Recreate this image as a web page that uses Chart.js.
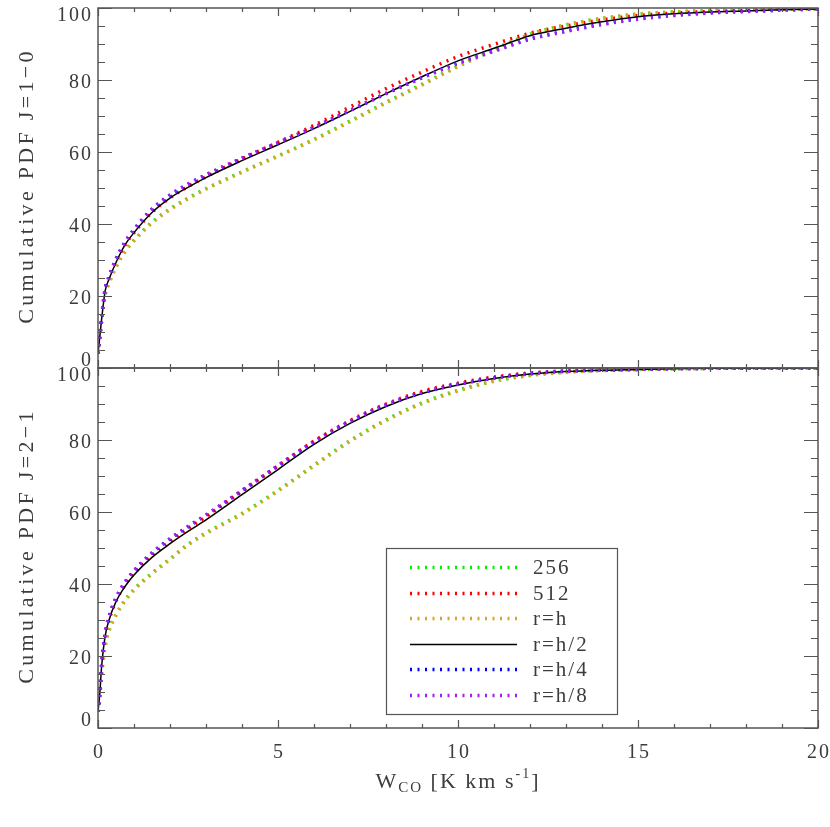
<!DOCTYPE html>
<html lang="en">
<head>
<meta charset="UTF-8">
<title>Cumulative PDF</title>
<script src="https://cdn.jsdelivr.net/npm/chart.js@4.4.0/dist/chart.umd.min.js"></script>
<style>
  body { margin: 0; background: #fff; }
  #wrap { position: relative; width: 830px; height: 827px; }
  #wrap canvas { position: absolute; left: 0; }
</style>
</head>
<body>
<div id="wrap">
  <canvas id="topChart" width="830" height="380" style="top:0"></canvas>
  <canvas id="botChart" width="830" height="467" style="top:360px"></canvas>
</div>
<script>
// W_CO sample positions (K km/s)
const xVals = [0, 0.05, 0.1, 0.2, 0.3, 0.5, 0.75, 1, 1.5, 2, 2.5, 3, 4, 5, 6, 7, 8, 9, 10, 11, 12, 13, 14, 15, 16, 17, 18, 19, 20];

const seriesLabels = ['256', '512', 'r=h', 'r=h/2', 'r=h/4', 'r=h/8'];
const seriesColors = ['#00ee00', '#ff0000', '#daa520', '#000000', '#0000ff', '#a020f0'];

const xTicks = [0, 5, 10, 15, 20];
const yTicks = [0, 20, 40, 60, 80, 100];

// J=1-0 panel
const top256 = [4, 8.5, 13, 20.5, 23.5, 28.2, 32.5, 35.5, 40.5, 44.2, 47.2, 49.8, 54.5, 58.9, 63.5, 68.6, 73.8, 78.8, 83.9, 88.5, 92.7, 95.3, 97.1, 98.3, 98.9, 99.3, 99.5, 99.7, 99.8];
const top512 = [4, 8.7, 13.5, 21.5, 24.5, 29.4, 34.2, 37.6, 43.3, 47.3, 50.4, 53.1, 58.1, 62.7, 67.4, 72.5, 77.6, 82.2, 86.5, 89.9, 93.0, 95.0, 96.7, 97.9, 98.6, 99.0, 99.3, 99.6, 99.8];
const topRh = [4, 8.4, 12.8, 20.3, 23.3, 28.0, 32.3, 35.3, 40.3, 44.0, 47.0, 49.7, 54.4, 58.8, 63.4, 68.4, 73.6, 78.6, 83.7, 88.3, 92.6, 95.3, 97.1, 98.3, 98.9, 99.3, 99.5, 99.7, 99.8];
const topRh2 = [4, 8.7, 13.5, 21.5, 24.5, 29.3, 34.2, 37.6, 43.2, 47.2, 50.2, 52.9, 57.6, 62.0, 66.5, 71.3, 76.2, 80.9, 85.3, 88.8, 92.3, 94.4, 96.2, 97.6, 98.4, 98.9, 99.2, 99.5, 99.7];
const topRh4 = [4, 9, 14, 22, 25.1, 30.2, 34.9, 38.4, 44.1, 48.0, 51.0, 53.6, 58.2, 62.5, 66.8, 71.5, 76.2, 80.6, 84.7, 88.1, 91.4, 93.6, 95.5, 97.0, 98.0, 98.7, 99.1, 99.4, 99.7];
const topRh8 = [4, 9, 14, 22, 25.2, 30.3, 35.0, 38.5, 44.2, 48.1, 51.1, 53.7, 58.3, 62.6, 66.9, 71.6, 76.3, 80.6, 84.6, 88.0, 91.3, 93.5, 95.4, 96.9, 97.9, 98.6, 99.0, 99.4, 99.7];

// J=2-1 panel
const bot256 = [4.5, 9, 15, 23, 27, 31.5, 35.5, 38.5, 43, 47, 51, 54.2, 59.6, 66.0, 73.0, 79.8, 85.6, 90.3, 93.8, 96.4, 98.0, 98.9, 99.4, 99.6, 99.8, 99.9, 99.9, 100, 100];
const bot512 = [4.5, 9.6, 17, 25.6, 29.8, 35.3, 39.7, 43.0, 48.0, 51.9, 55.4, 58.7, 65.8, 72.8, 79.7, 85.4, 90.0, 93.5, 95.8, 97.5, 98.6, 99.2, 99.5, 99.7, 99.8, 99.9, 99.9, 100, 100];
const botRh = [4.5, 8.9, 14.8, 22.8, 26.8, 31.3, 35.3, 38.3, 42.8, 46.8, 50.8, 54.0, 59.4, 65.8, 72.8, 79.6, 85.4, 90.1, 93.6, 96.3, 97.9, 98.8, 99.3, 99.6, 99.8, 99.9, 99.9, 100, 100];
const botRh2 = [4.5, 9.6, 17, 25.6, 29.8, 35.1, 39.3, 42.5, 47.4, 51.2, 54.6, 57.8, 64.8, 71.8, 78.8, 84.6, 89.3, 92.9, 95.3, 97.1, 98.3, 99.0, 99.4, 99.6, 99.8, 99.9, 99.9, 100, 100];
const botRh4 = [4.5, 9.8, 17.4, 26.4, 30.7, 36.1, 40.4, 43.6, 48.6, 52.5, 55.9, 59.1, 65.9, 72.8, 79.5, 85.1, 89.7, 93.1, 95.5, 97.2, 98.4, 99.1, 99.4, 99.6, 99.8, 99.9, 99.9, 100, 100];
const botRh8 = [4.5, 9.8, 17.5, 26.5, 30.8, 36.2, 40.5, 43.7, 48.7, 52.6, 56.0, 59.2, 66.0, 72.9, 79.6, 85.2, 89.8, 93.2, 95.5, 97.2, 98.4, 99.1, 99.4, 99.6, 99.8, 99.9, 99.9, 100, 100];

const FONT = '"Liberation Serif", "DejaVu Serif", serif';
const INK = '#3c3c3c';

function makeDatasets(arrs) {
    return arrs.map((arr, i) => ({
        label: seriesLabels[i],
        data: xVals.map((x, j) => ({ x: x, y: arr[j] })),
        borderColor: seriesColors[i],
        borderWidth: i === 3 ? 1.5 : 3.5,
        borderDash: i === 3 ? [] : [2, 5.5],
        borderCapStyle: 'butt',
        pointRadius: 0,
        cubicInterpolationMode: 'monotone',
        fill: false,
        order: 5 - i
    }));
}

const framePlugin = {
    id: 'frame',
    afterDatasetsDraw(chart, args, opts) {
        const ctx = chart.ctx;
        const a = chart.chartArea;
        const xs = chart.scales.x;
        const ys = chart.scales.y;
        ctx.save();

        // inward ticks on all four sides
        ctx.strokeStyle = '#555';
        ctx.lineWidth = 1.2;
        ctx.beginPath();
        for (let v = 0; v <= 20; v++) {
            const px = Math.round(xs.getPixelForValue(v)) + 0.5;
            const len = xTicks.includes(v) ? 8 : 4;
            ctx.moveTo(px, a.bottom); ctx.lineTo(px, a.bottom - len);
            ctx.moveTo(px, a.top); ctx.lineTo(px, a.top + len);
        }
        for (let v = 0; v <= 100; v += 5) {
            const py = Math.round(ys.getPixelForValue(v)) + 0.5;
            const len = yTicks.includes(v) ? 14 : 7;
            ctx.moveTo(a.left, py); ctx.lineTo(a.left + len, py);
            ctx.moveTo(a.right, py); ctx.lineTo(a.right - len, py);
        }
        ctx.stroke();
        ctx.lineWidth = 1.5;
        ctx.strokeRect(a.left, a.top, a.right - a.left, a.bottom - a.top);

        // y tick labels
        ctx.fillStyle = INK;
        ctx.font = '20px ' + FONT;
        ctx.textAlign = 'right';
        ctx.textBaseline = 'middle';
        ctx.letterSpacing = '2px';
        yTicks.forEach(v => {
            let py = ys.getPixelForValue(v) + 3;
            py = Math.min(Math.max(py, a.top + 8), a.bottom - 7);
            ctx.fillText(String(v), a.left - 5, py);
        });

        // y title
        ctx.save();
        ctx.translate(27, (a.top + a.bottom) / 2);
        ctx.rotate(-Math.PI / 2);
        ctx.textAlign = 'center';
        ctx.font = '22px ' + FONT;
        ctx.letterSpacing = '3.3px';
        ctx.fillText(opts.title, 2, 0);
        ctx.restore();

        if (opts.xLabels) {
            ctx.font = '20px ' + FONT;
            ctx.textAlign = 'center';
            ctx.letterSpacing = '2px';
            xTicks.forEach(v => {
                ctx.fillText(String(v), xs.getPixelForValue(v) + 1, a.bottom + 25);
            });

            // x title: W_CO [K km s^-1]
            const parts = [
                { t: 'W', f: 22, dy: 0 },
                { t: 'CO', f: 15, dy: 6 },
                { t: ' [K km s', f: 22, dy: 0 },
                { t: '-1', f: 14, dy: -8 },
                { t: ']', f: 22, dy: 0 }
            ];
            ctx.textAlign = 'left';
            ctx.letterSpacing = '2px';
            let total = 0;
            parts.forEach(p => { ctx.font = p.f + 'px ' + FONT; p.w = ctx.measureText(p.t).width; total += p.w; });
            let cx = (a.left + a.right) / 2 - total / 2;
            const ty = a.bottom + 54;
            parts.forEach(p => {
                ctx.font = p.f + 'px ' + FONT;
                ctx.fillText(p.t, cx, ty + p.dy);
                cx += p.w;
            });
        }

        if (opts.legend) {
            const bx = a.left + 288, by = a.top + 180, bw = 231, bh = 166;
            ctx.fillStyle = '#fff';
            ctx.fillRect(bx, by, bw, bh);
            ctx.strokeStyle = '#555';
            ctx.lineWidth = 1.2;
            ctx.strokeRect(bx + 0.5, by + 0.5, bw, bh);
            ctx.font = '21px ' + FONT;
            ctx.textAlign = 'left';
            ctx.textBaseline = 'middle';
            ctx.letterSpacing = '2px';
            chart.data.datasets.forEach((ds, i) => {
                const ry = Math.round(by + 19 + i * 25.5) + 0.5;
                ctx.beginPath();
                ctx.strokeStyle = ds.borderColor;
                ctx.lineWidth = ds.borderWidth;
                ctx.setLineDash(ds.borderDash);
                ctx.lineCap = 'butt';
                ctx.moveTo(bx + 24, ry);
                ctx.lineTo(bx + 131, ry);
                ctx.stroke();
                ctx.setLineDash([]);
                ctx.fillStyle = INK;
                ctx.fillText(ds.label, bx + 147, ry + 1);
            });
        }
        ctx.restore();
    }
};

function makeChart(id, arrs, pad, frameOpts) {
    const ctx = document.getElementById(id).getContext('2d');
    return new Chart(ctx, {
        type: 'line',
        data: { datasets: makeDatasets(arrs) },
        options: {
            responsive: false,
            animation: false,
            devicePixelRatio: 1,
            layout: { padding: pad },
            plugins: {
                legend: { display: false },
                tooltip: { enabled: false },
                frame: frameOpts
            },
            scales: {
                x: { type: 'linear', min: 0, max: 20, display: false },
                y: { type: 'linear', min: 0, max: 100, display: false }
            }
        },
        plugins: [framePlugin]
    });
}

makeChart('topChart', [top256, top512, topRh, topRh2, topRh4, topRh8],
    { left: 98, right: 12, top: 8, bottom: 12 },
    { title: 'Cumulative PDF J=1\u22120', xLabels: false, legend: false });

makeChart('botChart', [bot256, bot512, botRh, botRh2, botRh4, botRh8],
    { left: 98, right: 12, top: 8, bottom: 99 },
    { title: 'Cumulative PDF J=2\u22121', xLabels: true, legend: true });
</script>
</body>
</html>
